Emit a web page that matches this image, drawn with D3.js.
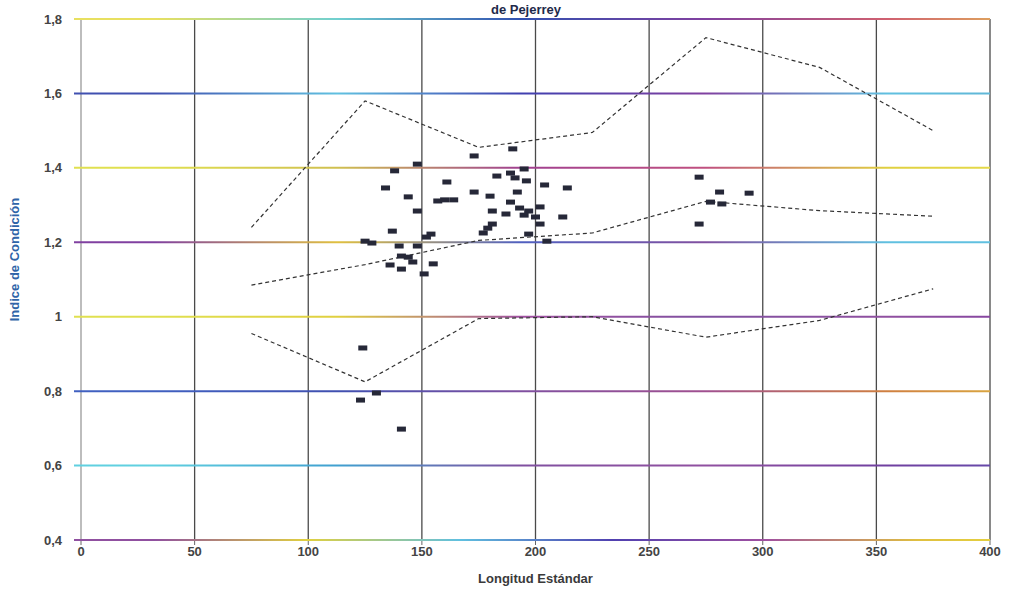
<!DOCTYPE html>
<html>
<head>
<meta charset="utf-8">
<script src="https://cdn.jsdelivr.net/npm/d3@7"></script>
<style>
  body { margin: 0; background: #fff; }
  text { font-family: "Liberation Sans", Arial, sans-serif; }
</style>
</head>
<body>
<div id="chart"></div>
<script>
// reference curves (sampled every 50 from 75 to 375)
const curveX = [75, 125, 175, 225, 275, 325, 375];
const upperY = [1.24, 1.58, 1.455, 1.495, 1.75, 1.67, 1.50];
const middleY = [1.085, 1.14, 1.205, 1.225, 1.31, 1.285, 1.27];
const lowerY = [0.955, 0.825, 0.995, 1.0, 0.945, 0.99, 1.075];

// observed fish: standard length and condition index
const fishX = [173, 190, 148, 138, 183, 189, 195, 191, 196, 161, 204, 214, 134, 144, 173, 180, 192,
  157, 160, 164, 189, 148, 181, 193, 197, 195, 202, 187, 200, 212, 202, 181, 179, 177, 137, 197,
  154, 152, 125, 128, 140, 148, 205, 141, 144, 146, 136, 141, 155, 151, 272, 281, 294, 277, 282,
  272, 124, 130, 123, 141];
const fishY = [1.432, 1.451, 1.41, 1.392, 1.378, 1.386, 1.397, 1.373, 1.365, 1.362, 1.354, 1.346,
  1.346, 1.322, 1.335, 1.324, 1.335, 1.311, 1.314, 1.314, 1.308, 1.284, 1.284, 1.292, 1.284, 1.273,
  1.295, 1.276, 1.268, 1.268, 1.249, 1.249, 1.238, 1.225, 1.23, 1.222, 1.222, 1.214, 1.203, 1.198,
  1.19, 1.19, 1.203, 1.163, 1.16, 1.147, 1.139, 1.128, 1.142, 1.115, 1.375, 1.335, 1.332, 1.308,
  1.303, 1.249, 0.916, 0.795, 0.776, 0.698];

const xTicks = [0, 50, 100, 150, 200, 250, 300, 350, 400];
const yTicks = [0.4, 0.6, 0.8, 1.0, 1.2, 1.4, 1.6, 1.8];

const W = 1012, H = 609;
const margin = {top: 19, right: 22, bottom: 69, left: 81};
const width = W - margin.left - margin.right;
const height = H - margin.top - margin.bottom;

// scanned-look colours of the horizontal grid lines (bottom to top)
const gridColors = [
  ["#9050a0", "#e0d040", "#60c0e0", "#5040b0", "#a050a0", "#e0c040", "#e8e040"],
  ["#60d0e0", "#40a0d0", "#8050a0", "#9050a0", "#7040a0", "#6050b0"],
  ["#4060c0", "#4050b0", "#8050a0", "#a05090", "#d08040", "#e0c040"],
  ["#e0e050", "#e0d040", "#a050a0", "#8050a0", "#9050a0", "#8040a0"],
  ["#8040a0", "#e0c040", "#5060c0", "#8050a0", "#60c0e0", "#60c0e0"],
  ["#e0e050", "#d0c050", "#a04090", "#c05080", "#e0d040", "#e8e050"],
  ["#4050b0", "#60c0e0", "#4040b0", "#8040a0", "#60c0e0", "#60b0d0"],
  ["#e8e060", "#70d0d0", "#3050b0", "#8040a0", "#d06070", "#e8d050"]
];

const svg = d3.select("#chart").append("svg")
  .attr("width", W)
  .attr("height", H);

const defs = svg.append("defs");
gridColors.forEach((cols, i) => {
  const g = defs.append("linearGradient")
    .attr("id", "grad" + i)
    .attr("gradientUnits", "userSpaceOnUse")
    .attr("x1", margin.left - 8).attr("x2", margin.left + width)
    .attr("y1", 0).attr("y2", 0);
  cols.forEach((c, j) => {
    g.append("stop").attr("offset", j / (cols.length - 1)).attr("stop-color", c);
  });
});

const g = svg.append("g")
  .attr("transform", `translate(${margin.left},${margin.top})`);

const x = d3.scaleLinear().domain([0, 400]).range([0, width]);
const y = d3.scaleLinear().domain([0.4, 1.8]).range([height, 0]);

// vertical grid lines
g.selectAll(".vgrid")
  .data(xTicks)
  .enter().append("line")
  .attr("class", "vgrid")
  .attr("x1", d => x(d)).attr("x2", d => x(d))
  .attr("y1", 0).attr("y2", height)
  .attr("stroke", d => d === 0 ? "#9a9a9a" : "#4a4a4a")
  .attr("stroke-width", 1.3);

// x ticks below the plot
g.selectAll(".xtick")
  .data(xTicks)
  .enter().append("line")
  .attr("x1", d => x(d)).attr("x2", d => x(d))
  .attr("y1", height).attr("y2", height + 5)
  .attr("stroke", "#666")
  .attr("stroke-width", 1);

// horizontal grid lines (colour fringed like the scan)
g.selectAll(".hgrid")
  .data(yTicks)
  .enter().append("line")
  .attr("class", "hgrid")
  .attr("x1", -7).attr("x2", width)
  .attr("y1", d => y(d)).attr("y2", d => y(d))
  .attr("stroke", (d, i) => `url(#grad${i})`)
  .attr("stroke-width", 2);

const fmt = d => d === 1 ? "1" : d3.format(".1f")(d).replace(".", ",");

g.selectAll(".ylab")
  .data(yTicks)
  .enter().append("text")
  .attr("x", -19)
  .attr("y", d => y(d))
  .attr("dy", "0.35em")
  .attr("text-anchor", "end")
  .style("font-size", "13px")
  .style("font-weight", "bold")
  .attr("fill", "#444")
  .text(fmt);

g.selectAll(".xlab")
  .data(xTicks)
  .enter().append("text")
  .attr("x", d => x(d))
  .attr("y", height + 16)
  .attr("text-anchor", "middle")
  .style("font-size", "13px")
  .style("font-weight", "bold")
  .attr("fill", "#444")
  .text(d => d);

// reference curves
const line = d3.line().x(d => x(d[0])).y(d => y(d[1]));
[upperY, middleY, lowerY].forEach(vals => {
  g.append("path")
    .datum(curveX.map((cx, i) => [cx, vals[i]]))
    .attr("d", line)
    .attr("fill", "none")
    .attr("stroke", "#333")
    .attr("stroke-width", 1.2)
    .attr("stroke-dasharray", "4,3");
});

// fish points as small dark dashes
g.selectAll(".pt")
  .data(fishX.map((fx, i) => [fx, fishY[i]]))
  .enter().append("rect")
  .attr("x", d => x(d[0]) - 4.5)
  .attr("y", d => y(d[1]) - 2.5)
  .attr("width", 9)
  .attr("height", 5)
  .attr("fill", "#262838");

// axis titles
svg.append("text")
  .attr("x", margin.left + width / 2)
  .attr("y", 583)
  .attr("text-anchor", "middle")
  .style("font-size", "13px")
  .style("font-weight", "bold")
  .attr("fill", "#3a3a3a")
  .text("Longitud Estándar");

svg.append("text")
  .attr("transform", `translate(19,${margin.top + height / 2 - 20}) rotate(-90)`)
  .attr("text-anchor", "middle")
  .style("font-size", "13px")
  .style("font-weight", "bold")
  .attr("fill", "#2f64a8")
  .text("Indice de Condición");

// chart title, lower line sits just above the plot
svg.append("text")
  .attr("x", 526)
  .attr("y", 14)
  .attr("text-anchor", "middle")
  .style("font-size", "13px")
  .style("font-weight", "bold")
  .attr("fill", "#1e2a4a")
  .text("de Pejerrey");
</script>
</body>
</html>
